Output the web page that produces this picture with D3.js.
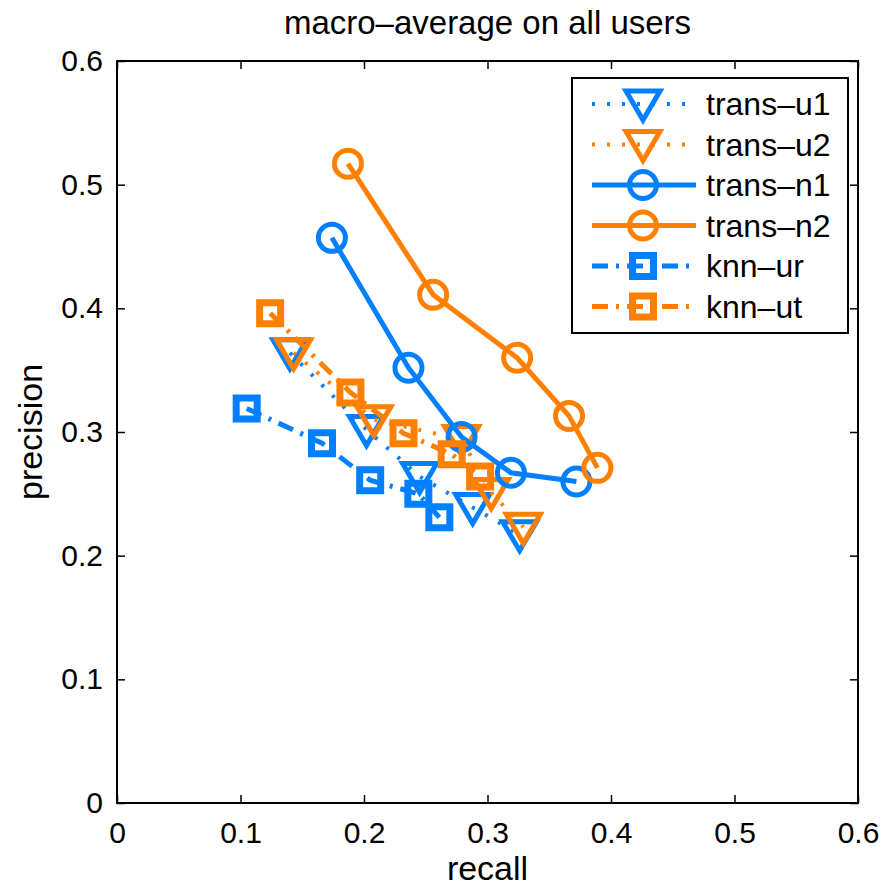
<!DOCTYPE html>
<html>
<head>
<meta charset="utf-8">
<script src="https://cdn.jsdelivr.net/npm/d3@7"></script>
<style>
  body { margin: 0; background: #fff; }
  text { font-family: "Liberation Sans", Arial, Helvetica, sans-serif; fill: #000; }
</style>
</head>
<body>
<div id="chart"></div>
<script>
// values (recall, precision)
var transU1 = [
  {x: 0.140, y: 0.364}, {x: 0.202, y: 0.302}, {x: 0.245, y: 0.264},
  {x: 0.288, y: 0.239}, {x: 0.326, y: 0.217}
];
var transU2 = [
  {x: 0.143, y: 0.364}, {x: 0.208, y: 0.310}, {x: 0.279, y: 0.294},
  {x: 0.303, y: 0.251}, {x: 0.329, y: 0.223}
];
var transN1 = [
  {x: 0.174, y: 0.457}, {x: 0.236, y: 0.352}, {x: 0.279, y: 0.296},
  {x: 0.319, y: 0.267}, {x: 0.372, y: 0.260}
];
var transN2 = [
  {x: 0.187, y: 0.517}, {x: 0.256, y: 0.411}, {x: 0.324, y: 0.360},
  {x: 0.366, y: 0.313}, {x: 0.389, y: 0.271}
];
var knnUr = [
  {x: 0.105, y: 0.319}, {x: 0.166, y: 0.291}, {x: 0.205, y: 0.261},
  {x: 0.244, y: 0.250}, {x: 0.261, y: 0.231}
];
var knnUt = [
  {x: 0.124, y: 0.396}, {x: 0.189, y: 0.332}, {x: 0.232, y: 0.299},
  {x: 0.271, y: 0.282}, {x: 0.294, y: 0.264}
];
var seriesNames = ["trans\u2013u1", "trans\u2013u2", "trans\u2013n1", "trans\u2013n2", "knn\u2013ur", "knn\u2013ut"];
var xTicks = [0, 0.1, 0.2, 0.3, 0.4, 0.5, 0.6];
var yTicks = [0, 0.1, 0.2, 0.3, 0.4, 0.5, 0.6];

var blue = "#0080ff", orange = "#ff8000";

var series = [
  {name: seriesNames[0], data: transU1, color: blue,   dash: "3,12",     width: 4, marker: "tri"},
  {name: seriesNames[1], data: transU2, color: orange, dash: "3,12",     width: 4, marker: "tri"},
  {name: seriesNames[2], data: transN1, color: blue,   dash: null,       width: 5, marker: "circle"},
  {name: seriesNames[3], data: transN2, color: orange, dash: null,       width: 5, marker: "circle"},
  {name: seriesNames[4], data: knnUr,   color: blue,   dash: "16,8,3,8", width: 5, marker: "square"},
  {name: seriesNames[5], data: knnUt,   color: orange, dash: "16,8,3,8", width: 5, marker: "square"}
];

var margin = {top: 61, right: 25, bottom: 84, left: 117},
    width = 741, height = 742;

var svg = d3.select("#chart")
  .append("svg")
    .attr("width", 883)
    .attr("height", 887);

var g = svg.append("g")
    .attr("transform", "translate(" + margin.left + "," + margin.top + ")");

var x = d3.scaleLinear().domain([0, 0.6]).range([0, width]);
var y = d3.scaleLinear().domain([0, 0.6]).range([height, 0]);

var fmt = function(d) { return d3.format("")(+d.toFixed(1)); };

// axes, ticks pointing inward on all four sides
function styleAxis(sel) {
  sel.select(".domain").remove();
  sel.selectAll(".tick line").attr("stroke", "#000").attr("stroke-width", 1.5);
  sel.selectAll(".tick text").style("font-size", "30px");
}
g.append("g")
  .attr("transform", "translate(0," + height + ")")
  .call(d3.axisBottom(x).tickValues(xTicks).tickFormat(fmt).tickSizeInner(-8).tickSizeOuter(0).tickPadding(19))
  .call(styleAxis)
  .selectAll(".tick text").attr("dy", "0.71em");
g.append("g")
  .call(d3.axisLeft(y).tickValues(yTicks).tickFormat(fmt).tickSizeInner(-8).tickSizeOuter(0).tickPadding(14))
  .call(styleAxis);
g.append("g")
  .call(d3.axisTop(x).tickValues(xTicks).tickFormat("").tickSizeInner(-8).tickSizeOuter(0))
  .call(styleAxis);
g.append("g")
  .attr("transform", "translate(" + width + ",0)")
  .call(d3.axisRight(y).tickValues(yTicks).tickFormat("").tickSizeInner(-8).tickSizeOuter(0))
  .call(styleAxis);

g.append("rect")
  .attr("width", width).attr("height", height)
  .attr("fill", "none").attr("stroke", "#000").attr("stroke-width", 2);

// markers
function markerPath(type) {
  if (type === "tri") return "M-17,-13L17,-13L0,16Z";
  if (type === "circle") return d3.symbol().type(d3.symbolCircle).size(Math.PI * 13.5 * 13.5)();
  return "M-10.5,-10.5H10.5V10.5H-10.5Z";
}
function markerStroke(type) {
  return type === "square" ? 7 : 5;
}

var line = d3.line().x(function(d) { return x(d.x); }).y(function(d) { return y(d.y); });

series.forEach(function(s) {
  var sg = g.append("g");
  sg.append("path")
    .datum(s.data)
    .attr("d", line)
    .attr("fill", "none")
    .attr("stroke", s.color)
    .attr("stroke-width", s.width)
    .attr("stroke-dasharray", s.dash);
  sg.selectAll("path.mk")
    .data(s.data)
    .enter().append("path")
      .attr("class", "mk")
      .attr("d", markerPath(s.marker))
      .attr("transform", function(d) { return "translate(" + x(d.x) + "," + y(d.y) + ")"; })
      .attr("fill", "none")
      .attr("stroke", s.color)
      .attr("stroke-width", markerStroke(s.marker))
      .attr("stroke-linejoin", "miter");
});

// legend
var leg = g.append("g").attr("transform", "translate(" + (572 - margin.left) + "," + (78 - margin.top) + ")");
leg.append("rect")
  .attr("width", 276).attr("height", 255)
  .attr("fill", "#fff").attr("stroke", "#000").attr("stroke-width", 2);
var rows = leg.selectAll("g.row")
  .data(series)
  .enter().append("g")
    .attr("class", "row")
    .attr("transform", function(d, i) { return "translate(0," + (26 + i * 40.5) + ")"; });
rows.append("line")
  .attr("x1", 20).attr("x2", 124)
  .attr("stroke", function(d) { return d.color; })
  .attr("stroke-width", function(d) { return d.width; })
  .attr("stroke-dasharray", function(d) { return d.dash; });
rows.append("path")
  .attr("d", function(d) { return markerPath(d.marker); })
  .attr("transform", "translate(71,0)")
  .attr("fill", "none")
  .attr("stroke", function(d) { return d.color; })
  .attr("stroke-width", function(d) { return markerStroke(d.marker); });
rows.append("text")
  .attr("x", 134)
  .attr("dy", "0.35em")
  .style("font-size", "32px")
  .text(function(d) { return d.name; });

// titles
svg.append("text")
  .attr("x", margin.left + width / 2)
  .attr("y", 34)
  .attr("text-anchor", "middle")
  .style("font-size", "33px")
  .text("macro\u2013average on all users");
svg.append("text")
  .attr("x", margin.left + width / 2)
  .attr("y", 880)
  .attr("text-anchor", "middle")
  .style("font-size", "34px")
  .text("recall");
svg.append("text")
  .attr("transform", "translate(42," + (margin.top + height / 2) + ") rotate(-90)")
  .attr("text-anchor", "middle")
  .style("font-size", "34px")
  .text("precision");
</script>
</body>
</html>
